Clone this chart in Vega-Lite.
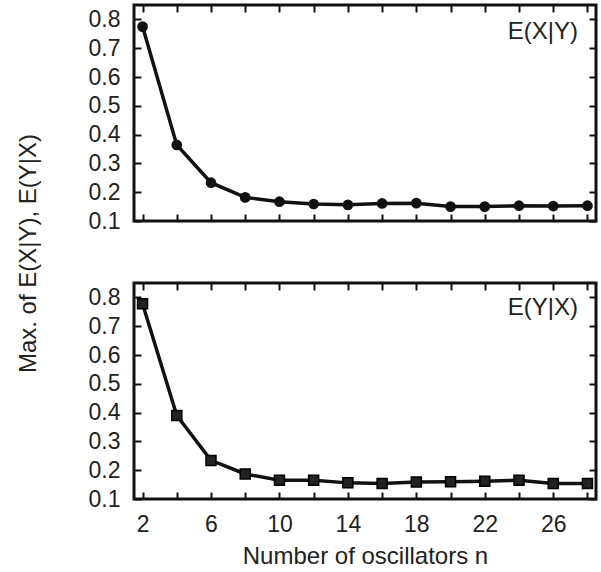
{
  "$schema": "https://vega.github.io/schema/vega-lite/v6.json",
  "padding": {"left": 14, "top": 2, "right": 2, "bottom": 2},
  "background": "white",
  "bounds": "flush",
  "spacing": 62,
  "config": {
    "font": "Liberation Sans",
    "view": {"stroke": "#111", "strokeWidth": 3},
    "axis": {
      "domain": false,
      "grid": false,
      "ticks": true,
      "tickSize": -7,
      "tickWidth": 2,
      "tickColor": "#111",
      "labelFont": "Liberation Sans",
      "labelFontSize": 23,
      "labelColor": "#222",
      "titleFont": "Liberation Sans",
      "titleFontSize": 24,
      "titleFontWeight": "normal",
      "titleColor": "#222"
    }
  },
  "datasets": {
    "xy": [
      {"n": 2, "v": 0.775}, {"n": 4, "v": 0.364}, {"n": 6, "v": 0.233}, {"n": 8, "v": 0.182},
      {"n": 10, "v": 0.167}, {"n": 12, "v": 0.159}, {"n": 14, "v": 0.156}, {"n": 16, "v": 0.161},
      {"n": 18, "v": 0.162}, {"n": 20, "v": 0.150}, {"n": 22, "v": 0.150}, {"n": 24, "v": 0.153},
      {"n": 26, "v": 0.152}, {"n": 28, "v": 0.153}
    ],
    "yx": [
      {"n": 2, "v": 0.778}, {"n": 4, "v": 0.390}, {"n": 6, "v": 0.234}, {"n": 8, "v": 0.187},
      {"n": 10, "v": 0.165}, {"n": 12, "v": 0.165}, {"n": 14, "v": 0.156}, {"n": 16, "v": 0.154},
      {"n": 18, "v": 0.159}, {"n": 20, "v": 0.160}, {"n": 22, "v": 0.162}, {"n": 24, "v": 0.165},
      {"n": 26, "v": 0.154}, {"n": 28, "v": 0.154}
    ]
  },
  "vconcat": [
    {
      "width": 462,
      "height": 216,
      "layer": [
        {
          "data": {"name": "xy"},
          "mark": {"type": "line", "color": "#111", "strokeWidth": 3.5},
          "encoding": {
            "x": {"field": "n", "type": "quantitative", "scale": {"domain": [1.5, 28.5], "nice": false, "zero": false},
                  "axis": {"orient": "bottom", "values": [2,4,6,8,10,12,14,16,18,20,22,24,26,28], "labels": false, "title": null}},
            "y": {"field": "v", "type": "quantitative", "scale": {"domain": [0.1, 0.85], "nice": false, "zero": false},
                  "axis": {"orient": "left", "values": [0.1,0.2,0.3,0.4,0.5,0.6,0.7,0.8], "format": ".1f", "labelPadding": 21,
                           "title": "Max. of E(X|Y), E(Y|X)", "titleY": 248, "titlePadding": 48}}
          }
        },
        {
          "data": {"name": "xy"},
          "mark": {"type": "point", "shape": "circle", "filled": true, "color": "#111", "size": 115, "opacity": 1},
          "encoding": {
            "x": {"field": "n", "type": "quantitative",
                  "axis": {"orient": "top", "values": [2,4,6,8,10,12,14,16,18,20,22,24,26,28], "labels": false, "title": null}},
            "y": {"field": "v", "type": "quantitative",
                  "axis": {"orient": "right", "values": [0.1,0.2,0.3,0.4,0.5,0.6,0.7,0.8], "labels": false, "title": null}}
          }
        },
        {
          "data": {"values": [{"label": "E(X|Y)"}]},
          "mark": {"type": "text", "align": "right", "baseline": "alphabetic", "fontSize": 24, "fontWeight": "normal", "color": "#222"},
          "encoding": {"text": {"field": "label"}, "x": {"datum": 27.45, "type": "quantitative", "axis": null}, "y": {"datum": 0.733, "type": "quantitative", "axis": null}}
        }
      ],
      "resolve": {"axis": {"x": "independent", "y": "independent"}}
    },
    {
      "width": 462,
      "height": 216,
      "layer": [
        {
          "data": {"name": "yx"},
          "mark": {"type": "line", "color": "#111", "strokeWidth": 3.5},
          "encoding": {
            "x": {"field": "n", "type": "quantitative", "scale": {"domain": [1.5, 28.5], "nice": false, "zero": false},
                  "axis": {"orient": "bottom", "values": [2,4,6,8,10,12,14,16,18,20,22,24,26,28],
                           "labelExpr": "datum.value % 4 == 2 ? datum.label : ''", "labelPadding": 21,
                           "title": "Number of oscillators n", "titlePadding": 8}},
            "y": {"field": "v", "type": "quantitative", "scale": {"domain": [0.1, 0.85], "nice": false, "zero": false},
                  "axis": {"orient": "left", "values": [0.1,0.2,0.3,0.4,0.5,0.6,0.7,0.8], "format": ".1f", "labelPadding": 21, "title": null}}
          }
        },
        {
          "data": {"name": "yx"},
          "mark": {"type": "point", "shape": "square", "filled": true, "color": "#222", "stroke": "#000", "strokeWidth": 1.5, "size": 100, "opacity": 1},
          "encoding": {
            "x": {"field": "n", "type": "quantitative",
                  "axis": {"orient": "top", "values": [2,4,6,8,10,12,14,16,18,20,22,24,26,28], "labels": false, "title": null}},
            "y": {"field": "v", "type": "quantitative",
                  "axis": {"orient": "right", "values": [0.1,0.2,0.3,0.4,0.5,0.6,0.7,0.8], "labels": false, "title": null}}
          }
        },
        {
          "data": {"values": [{"label": "E(Y|X)"}]},
          "mark": {"type": "text", "align": "right", "baseline": "alphabetic", "fontSize": 24, "fontWeight": "normal", "color": "#222"},
          "encoding": {"text": {"field": "label"}, "x": {"datum": 27.45, "type": "quantitative", "axis": null}, "y": {"datum": 0.738, "type": "quantitative", "axis": null}}
        }
      ],
      "resolve": {"axis": {"x": "independent", "y": "independent"}}
    }
  ]
}
